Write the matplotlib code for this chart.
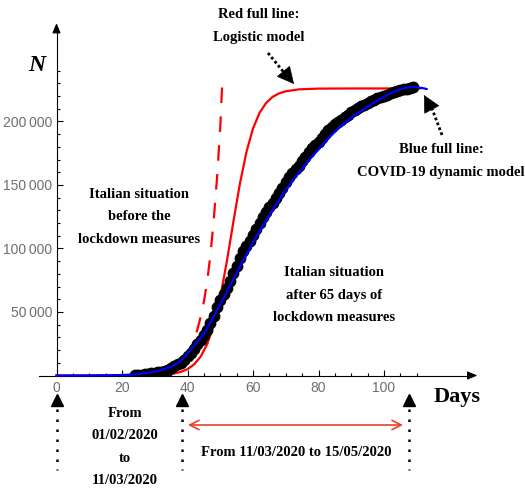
import matplotlib
matplotlib.use('Agg')
import matplotlib.pyplot as plt
from matplotlib.patches import Rectangle

plt.rcParams['font.family'] = ['Liberation Sans Narrow', 'Liberation Sans', 'DejaVu Sans']
SERIF = ['Liberation Serif', 'DejaVu Serif']

# Italian data (cumulative cases), day 0 = 01/02/2020
data_days = list(range(24, 110))
data_N = [322, 400, 650, 888, 1128, 1694, 2036, 2502, 3089, 3858,
          4636, 5883, 7375, 9172, 10149, 12462, 15113, 17660, 21157, 24747,
          27980, 31506, 35713, 41035, 47021, 53578, 59138, 63927, 69176, 74386,
          80589, 86498, 92472, 97689, 101739, 105792, 110574, 115242, 119827, 124632,
          128948, 132547, 135586, 139422, 143626, 147577, 152271, 156363, 159516, 162488,
          165155, 168941, 172434, 175925, 178972, 181228, 183957, 187327, 189973, 192994,
          195351, 197675, 199414, 201505, 203591, 205463, 207428, 209328, 210717, 211938,
          213013, 214457, 215858, 217185, 218268, 219070, 219814, 221216, 222104, 223096,
          223885, 224760, 225435, 225886, 226699, 227364]

# blue: COVID-19 dynamic model
blue_days = [0, 10, 20, 25, 30, 35, 38, 40, 42.5, 45, 47.5, 50, 52.5, 55, 57.5, 60,
             62.5, 65, 67.5, 70, 72.5, 75, 77.5, 80, 82.5, 85, 87.5, 90, 92.5, 95,
             97.5, 100, 102, 104, 106, 108, 110, 112, 113]
blue_N = [0, 60, 350, 1100, 2900, 6800, 11500, 17500, 25000, 33000, 44000, 56000,
          68500, 81000, 93000, 104500, 115800, 126500, 136500, 146000, 154800, 163000,
          170800, 178000, 185200, 192000, 197800, 203000, 207500, 211500, 215800, 219500,
          222200, 224500, 226200, 227200, 227000, 226200, 225600]

# red full: logistic model
red_days = [0, 10, 20, 25, 30, 33, 36, 38, 40, 42, 44, 46, 48, 50, 52, 54, 56, 58,
            60, 62, 64, 66, 68, 70, 74, 80, 90, 100, 111]
red_N = [0, 0, 20, 80, 310, 700, 1600, 2900, 5000, 8700, 14800, 24600, 39900, 61700,
         89600, 120900, 151000, 176000, 194500, 206800, 214600, 219400, 222200, 223800,
         225300, 225900, 226000, 226000, 226000]

# red dashed: situation before the lockdown
dash_days = [39, 40, 41, 42, 43, 44, 45, 46, 47, 48, 49, 50, 50.7]
dash_N = [13500, 17000, 22000, 28500, 36000, 46000, 58000, 74000, 95000, 122000,
          155000, 195000, 236000]

marker_days = [0, 38.3, 107.6]

# pixel mapping of the original figure
W, H = 525, 493
x0_px, px_per_day = 56.5, 3.275
y0_px, n_per_px = 375.5, 787.4

def fx(px):
    return px / W

def fy(py):
    return 1 - py / H

fig = plt.figure(figsize=(W / 100, H / 100), dpi=100)
ax = fig.add_axes([0, 0, 1, 1])
ax.set_xlim(-x0_px / px_per_day, (W - x0_px) / px_per_day)
ax.set_ylim((y0_px - H) * n_per_px, y0_px * n_per_px)
ax.patch.set_alpha(0)

# axes through the origin, Mathematica style
for s in ['top', 'right']:
    ax.spines[s].set_visible(False)
ax.spines['left'].set_position(('data', 0))
ax.spines['bottom'].set_position(('data', 0))
ax.spines['left'].set_bounds(0, 274000)
ax.spines['bottom'].set_bounds(-5.2, 127)
ax.annotate('', xy=(128.5, 0), xytext=(126, 0),
            arrowprops=dict(arrowstyle='-|>,head_length=0.6,head_width=0.25', lw=0.8,
                            color='black', mutation_scale=10, shrinkA=0, shrinkB=0))
ax.annotate('', xy=(0, 277500), xytext=(0, 273000),
            arrowprops=dict(arrowstyle='-|>,head_length=0.6,head_width=0.25', lw=0.8,
                            color='black', mutation_scale=10, shrinkA=0, shrinkB=0))

ax.set_xticks([0, 20, 40, 60, 80, 100])
ax.set_xticks(list(range(5, 115, 5)), minor=True)
ax.set_yticks([50000, 100000, 150000, 200000])
ax.set_yticklabels(['50\u2009000', '100\u2009000', '150\u2009000', '200\u2009000'])
ax.set_yticks(list(range(10000, 250000, 10000)), minor=True)
ax.tick_params(which='both', direction='in', color='black', width=0.8,
               labelcolor='#6e6e6e', labelsize=10)
ax.tick_params(which='major', length=4)
ax.tick_params(which='minor', length=2.5)
ax.tick_params(axis='x', pad=4)
ax.tick_params(axis='y', pad=3)

clip = Rectangle((-5, 0), 200, 400000, transform=ax.transData)

pts, = ax.plot(data_days, data_N, 'o', color='black', markersize=7.5, zorder=3)
pts.set_clip_path(clip)
ax.plot(blue_days, blue_N, color='blue', lw=1.6, zorder=4)
ax.plot(red_days, red_N, color='red', lw=1.6, zorder=2)
ax.plot(dash_days, dash_N, color='red', lw=1.6, dashes=(7, 6), zorder=2)

# text annotations
bold = dict(family=SERIF, fontweight='bold', ha='center', va='center',
            transform=ax.transAxes, fontsize=10.5, linespacing=1.95)
ax.text(fx(36.5), fy(65), 'N', family=SERIF, fontweight='bold', style='italic',
        fontsize=17, ha='center', va='center', transform=ax.transAxes)
ax.text(fx(259), fy(26), 'Red full line:\nLogistic model', **bold)
ax.text(fx(441), fy(161), 'Blue full line:\nCOVID-19 dynamic model', **bold)
ax.text(fx(139), fy(217), 'Italian situation\nbefore the\nlockdown measures', **bold)
ax.text(fx(334), fy(295), 'Italian situation\nafter 65 days of\nlockdown measures', **bold)
ax.text(fx(125), fy(447), 'From\n01/02/2020\nto\n11/03/2020', **bold)
ax.text(fx(296), fy(453), 'From 11/03/2020 to 15/05/2020', **bold)
ax.text(fx(457), fy(397), 'Days', family=SERIF, fontweight='bold', fontsize=16,
        ha='center', va='center', transform=ax.transAxes)

# dotted pointer arrows
head = dict(arrowstyle='-|>,head_length=0.75,head_width=0.38', color='black',
            lw=0.5, mutation_scale=15, shrinkA=0, shrinkB=0)
ax.plot([fx(268), fx(286)], [fy(53), fy(75)], transform=ax.transAxes, color='black',
        lw=2, linestyle=(0, (1, 0.9)))
ax.annotate('', xy=(fx(294), fy(84)), xytext=(fx(284), fy(72)),
            xycoords='axes fraction', arrowprops=head)
ax.plot([fx(442), fx(431)], [fy(135), fy(106)], transform=ax.transAxes, color='black',
        lw=2, linestyle=(0, (1, 0.9)))
ax.annotate('', xy=(fx(424), fy(95)), xytext=(fx(432), fy(110)),
            xycoords='axes fraction', arrowprops=head)

# bottom markers and dotted verticals
tri_y = (y0_px - 400) * n_per_px
ax.plot(marker_days, [tri_y] * len(marker_days), '^', color='black', markersize=8,
        clip_on=False, zorder=5)
for d in marker_days:
    ax.plot([d, d], [(y0_px - 409) * n_per_px, (y0_px - 470) * n_per_px],
            color='black', lw=1.8, linestyle=(0, (1, 3)))

ax.annotate('', xy=(fx(403), fy(425)), xytext=(fx(188), fy(425)),
            xycoords='axes fraction',
            arrowprops=dict(arrowstyle='<->,head_length=0.55,head_width=0.28',
                            color='#e8402f', lw=1.2, mutation_scale=12,
                            shrinkA=0, shrinkB=0))

fig.savefig('out.png', dpi=100)
